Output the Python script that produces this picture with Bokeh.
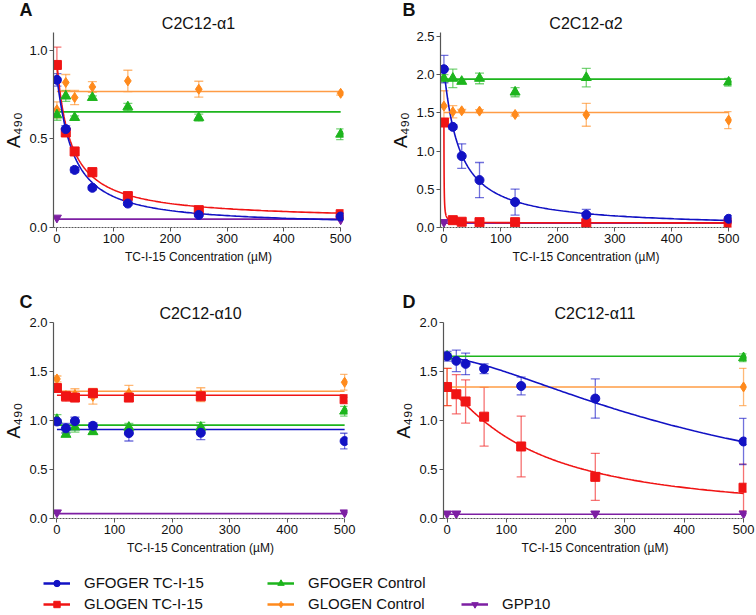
import numpy as np
from bokeh.plotting import figure
from bokeh.models import (Range1d, FixedTicker, PrintfTickFormatter, ColumnDataSource,
                          Whisker, TeeHead, Title, Legend, LegendItem)
from bokeh.layouts import column, row
from bokeh.embed import file_html
from bokeh.resources import INLINE

# ---------------- data ----------------
conc = [0, 15.625, 31.25, 62.5, 125, 250, 500]
conc_ends = [0, 500]
conc_d_gpp = [0, 15.625, 250, 500]
x_ticks = [0, 100, 200, 300, 400, 500]
x_title = "TC-I-15 Concentration (µM)"
y_title = "A₄₉₀"

# Panel A  C2C12-a1
A_gfoger_tc = [0.833, 0.555, 0.325, 0.224, 0.135, 0.071, 0.062]
A_gfoger_tc_sd = [0.035, 0.02, 0.015, 0.01, 0.01, 0.008, 0.008]
A_glogen_tc = [0.917, 0.536, 0.429, 0.312, 0.177, 0.098, 0.075]
A_glogen_tc_sd = [0.10, 0.02, 0.02, 0.025, 0.02, 0.01, 0.01]
A_gfoger_ctrl = [0.635, 0.741, 0.620, 0.733, 0.680, 0.620, 0.526]
A_gfoger_ctrl_sd = [0.03, 0.03, 0.01, 0.01, 0.02, 0.02, 0.03]
A_glogen_ctrl = [0.664, 0.818, 0.733, 0.793, 0.827, 0.780, 0.757]
A_glogen_ctrl_sd = [0.045, 0.045, 0.04, 0.03, 0.06, 0.045, 0.01]
A_gpp10 = [0.055, 0.045]
A_levels = {"gfoger_ctrl": 0.652, "glogen_ctrl": 0.767, "gpp10": 0.047}
A_fit_gfoger = (0.84, 0.01, 28.0, 1.1)   # top, bottom, IC50, Hill
A_fit_glogen = (0.93, 0.04, 24.0, 1.0)

# Panel B  C2C12-a2
B_gfoger_tc = [2.07, 1.316, 0.934, 0.62, 0.333, 0.167, 0.114]
B_gfoger_tc_sd = [0.18, 0.03, 0.16, 0.23, 0.17, 0.07, 0.02]
B_glogen_tc = [1.373, 0.096, 0.075, 0.070, 0.070, 0.057, 0.060]
B_glogen_tc_sd = [0.03, 0.01, 0.01, 0.01, 0.01, 0.01, 0.01]
B_gfoger_ctrl = [1.95, 1.95, 1.91, 1.95, 1.77, 1.96, 1.90]
B_gfoger_ctrl_sd = [0.05, 0.12, 0.02, 0.07, 0.06, 0.12, 0.05]
B_glogen_ctrl = [1.588, 1.513, 1.526, 1.522, 1.478, 1.474, 1.404]
B_glogen_ctrl_sd = [0.20, 0.08, 0.02, 0.02, 0.02, 0.15, 0.11]
B_gpp10 = [0.07, 0.06]
B_levels = {"gfoger_ctrl": 1.94, "glogen_ctrl": 1.504, "gpp10": 0.057}
B_fit_gfoger = (2.06, 0.0, 27.0, 1.05)
B_fit_glogen = (1.38, 0.06, 0.3, 1.0)

# Panel C  C2C12-a10
C_gfoger_tc = [0.99, 0.92, 0.993, 0.946, 0.871, 0.875, 0.79]
C_gfoger_tc_sd = [0.02, 0.05, 0.04, 0.03, 0.08, 0.07, 0.08]
C_glogen_tc = [1.332, 1.247, 1.234, 1.278, 1.234, 1.247, 1.217]
C_glogen_tc_sd = [0.03, 0.05, 0.03, 0.04, 0.03, 0.03, 0.02]
C_gfoger_ctrl = [1.01, 0.858, 0.932, 0.885, 0.93, 0.93, 1.095]
C_gfoger_ctrl_sd = [0.05, 0.02, 0.05, 0.02, 0.04, 0.05, 0.05]
C_glogen_ctrl = [1.424, 1.254, 1.264, 1.247, 1.278, 1.264, 1.39]
C_glogen_ctrl_sd = [0.03, 0.03, 0.06, 0.08, 0.08, 0.07, 0.08]
C_gpp10 = [0.061, 0.061]
C_levels = {"gfoger_tc": 0.908, "glogen_tc": 1.258, "gfoger_ctrl": 0.953,
            "glogen_ctrl": 1.298, "gpp10": 0.05}

# Panel D  C2C12-a11
D_gfoger_tc = [1.656, 1.609, 1.578, 1.528, 1.352, 1.224, 0.786]
D_gfoger_tc_sd = [0.05, 0.11, 0.11, 0.05, 0.09, 0.20, 0.235]
D_glogen_tc = [1.342, 1.268, 1.194, 1.039, 0.735, 0.425, 0.314]
D_glogen_tc_sd = [0.19, 0.20, 0.22, 0.30, 0.31, 0.24, 0.24]
D_gfoger_ctrl = [1.656, 1.64]
D_gfoger_ctrl_sd = [0.03, 0.04]
D_glogen_ctrl = [1.342, 1.342]
D_glogen_ctrl_sd = [0.19, 0.19]
D_gpp10 = [0.05, 0.05, 0.05, 0.05]
D_levels = {"gfoger_ctrl": 1.656, "glogen_ctrl": 1.342, "gpp10": 0.044}
D_fit_gfoger = (1.64, 0.0, 470.0, 1.5)
D_fit_glogen = (1.34, 0.0, 150.0, 1.2)

legend_labels = ["GFOGER TC-I-15", "GLOGEN TC-I-15", "GFOGER Control", "GLOGEN Control", "GPP10"]

# ---------------- style ----------------
FONT = "Liberation Sans"
BLUE = "#1212c4"
RED = "#f01414"
GREEN = "#1db51d"
ORANGE = "#ff8a1c"
ORANGE_L = "#ff9c45"
PURPLE = "#7d1fa3"
AXIS_C = "#555555"
X0 = -6

STY = {
    "gfoger_tc": dict(color=BLUE, marker="circle", size=9),
    "glogen_tc": dict(color=RED, marker="square", size=9),
    "gfoger_ctrl": dict(color=GREEN, marker="triangle", size=10),
    "glogen_ctrl": dict(color=ORANGE, marker="diamond", size=10),
    "gpp10": dict(color=PURPLE, marker="inverted_triangle", size=9),
}
LINE_C = {"gfoger_tc": BLUE, "glogen_tc": RED, "gfoger_ctrl": GREEN,
          "glogen_ctrl": ORANGE_L, "gpp10": PURPLE}

x_fine = np.concatenate([[0.0], np.geomspace(0.001, conc[-1], 800)])


def hill(params, xs):
    top, bottom, ic50, n = params
    return bottom + (top - bottom) / (1.0 + (xs / ic50) ** n)


def make_panel(letter, title, width, height, mb, ymax, yticks, series, levels, fits,
               letter_offset, title_standoff, letter_standoff):
    p = figure(width=width, height=height, x_range=Range1d(X0, 505), y_range=Range1d(0, ymax),
               output_backend="svg", toolbar_location=None,
               min_border_left=mb[0], min_border_right=mb[1], min_border_top=mb[2],
               min_border_bottom=mb[3])
    p.title.visible = False
    p.add_layout(Title(text=title, align="center", text_font=FONT, text_font_size="16px",
                       text_font_style="normal", text_color="#111111",
                       standoff=title_standoff), "above")
    p.add_layout(Title(text=letter, align="left", offset=letter_offset, text_font=FONT,
                       text_font_size="18px", text_font_style="bold", text_color="#111111",
                       standoff=letter_standoff), "above")
    p.xgrid.visible = False
    p.ygrid.visible = False
    p.outline_line_color = None
    p.background_fill_color = "white"

    p.xaxis.bounds = (X0, 500)
    p.yaxis.bounds = (0, ymax)
    p.xaxis.ticker = FixedTicker(ticks=x_ticks)
    p.yaxis.ticker = FixedTicker(ticks=yticks)
    p.yaxis.formatter = PrintfTickFormatter(format="%.1f")
    for ax in (p.xaxis, p.yaxis):
        ax.axis_line_color = AXIS_C
        ax.axis_line_width = 1.2
        ax.major_tick_line_color = AXIS_C
        ax.major_tick_in = 0
        ax.major_tick_out = 4
        ax.minor_tick_line_color = None
        ax.major_label_text_font = FONT
        ax.major_label_text_font_size = "13px"
        ax.major_label_text_color = "#111111"
        ax.major_label_standoff = 2
        ax.axis_label_text_font = FONT
        ax.axis_label_text_font_style = "normal"
        ax.axis_label_text_color = "#111111"
    p.xaxis.axis_line_dash = "2 1"
    p.xaxis.axis_label = x_title
    p.xaxis.axis_label_text_font_size = "12px"
    p.xaxis.axis_label_standoff = 4
    p.yaxis.axis_label = y_title
    p.yaxis.axis_label_text_font_size = "19px"
    p.yaxis.axis_label_standoff = 2

    # horizontal (constant) fits
    for key, lvl in levels.items():
        p.line(conc_ends, [lvl, lvl], line_color=LINE_C[key], line_width=1.6)
    # inhibition fits
    for key, prm in fits.items():
        p.line(x_fine, hill(prm, x_fine), line_color=LINE_C[key], line_width=1.6)

    # error bars
    for key, xs, ys, sd in series:
        if sd is None:
            continue
        c = STY[key]["color"]
        src = ColumnDataSource(dict(x=xs, lower=[y - s for y, s in zip(ys, sd)],
                                    upper=[y + s for y, s in zip(ys, sd)]))
        w = Whisker(source=src, base="x", lower="lower", upper="upper", dimension="height",
                    line_color=c, line_alpha=0.6, line_width=1.3,
                    upper_head=TeeHead(size=9, line_color=c, line_alpha=0.6, line_width=1.3),
                    lower_head=TeeHead(size=9, line_color=c, line_alpha=0.6, line_width=1.3))
        p.add_layout(w)
    # markers
    for key, xs, ys, sd in series:
        st = STY[key]
        p.scatter(xs, ys, marker=st["marker"], size=st["size"], fill_color=st["color"],
                  line_color=st["color"])
    return p


pA = make_panel("A", "C2C12-α1", 380, 266, (46, 37, 32, 39), 1.1, [0, 0.5, 1.0],
                [("glogen_ctrl", conc, A_glogen_ctrl, A_glogen_ctrl_sd),
                 ("gfoger_ctrl", conc, A_gfoger_ctrl, A_gfoger_ctrl_sd),
                 ("gpp10", conc_ends, A_gpp10, None),
                 ("glogen_tc", conc, A_glogen_tc, A_glogen_tc_sd),
                 ("gfoger_tc", conc, A_gfoger_tc, A_gfoger_tc_sd)],
                A_levels, {"glogen_tc": A_fit_glogen, "gfoger_tc": A_fit_gfoger},
                -34, 2, -16)

pB = make_panel("B", "C2C12-α2", 376, 266, (60, 25, 32, 39), 2.55, [0, 0.5, 1.0, 1.5, 2.0, 2.5],
                [("glogen_ctrl", conc, B_glogen_ctrl, B_glogen_ctrl_sd),
                 ("gfoger_ctrl", conc, B_gfoger_ctrl, B_gfoger_ctrl_sd),
                 ("gpp10", conc_ends, B_gpp10, None),
                 ("glogen_tc", conc, B_glogen_tc, B_glogen_tc_sd),
                 ("gfoger_tc", conc, B_gfoger_tc, B_gfoger_tc_sd)],
                B_levels, {"glogen_tc": B_fit_glogen, "gfoger_tc": B_fit_gfoger},
                -38, 2, -16)

pC = make_panel("C", "C2C12-α10", 380, 292, (46, 33, 56, 40), 2.0, [0, 0.5, 1.0, 1.5, 2.0],
                [("glogen_ctrl", conc, C_glogen_ctrl, C_glogen_ctrl_sd),
                 ("gfoger_ctrl", conc, C_gfoger_ctrl, C_gfoger_ctrl_sd),
                 ("gpp10", conc_ends, C_gpp10, None),
                 ("glogen_tc", conc, C_glogen_tc, C_glogen_tc_sd),
                 ("gfoger_tc", conc, C_gfoger_tc, C_gfoger_tc_sd)],
                C_levels, {}, -34, 1, -18)

pD = make_panel("D", "C2C12-α11", 376, 292, (63, 10, 56, 40), 2.0, [0, 0.5, 1.0, 1.5, 2.0],
                [("glogen_ctrl", conc_ends, D_glogen_ctrl, D_glogen_ctrl_sd),
                 ("gfoger_ctrl", conc_ends, D_gfoger_ctrl, D_gfoger_ctrl_sd),
                 ("gpp10", conc_d_gpp, D_gpp10, None),
                 ("glogen_tc", conc, D_glogen_tc, D_glogen_tc_sd),
                 ("gfoger_tc", conc, D_gfoger_tc, D_gfoger_tc_sd)],
                D_levels, {"glogen_tc": D_fit_glogen, "gfoger_tc": D_fit_gfoger},
                -41, 1, -18)

# ---------------- legend strip ----------------
pL = figure(width=756, height=57, x_range=Range1d(0, 1), y_range=Range1d(0, 1),
            output_backend="svg", toolbar_location=None, x_axis_type=None, y_axis_type=None,
            min_border_left=0, min_border_right=0, min_border_top=0, min_border_bottom=0)
pL.xgrid.visible = False
pL.ygrid.visible = False
pL.outline_line_color = None

keys = ["gfoger_tc", "glogen_tc", "gfoger_ctrl", "glogen_ctrl", "gpp10"]
items = []
for key, lab in zip(keys, legend_labels):
    st = STY[key]
    # one point outside the visible range so the legend has a glyph to draw
    lr = pL.line([-5, -4], [-5, -5], line_color=st["color"], line_width=2.5)
    sr = pL.scatter([-5], [-5], marker=st["marker"], size=st["size"], fill_color=st["color"],
                    line_color=st["color"])
    items.append(LegendItem(label=lab, renderers=[lr, sr]))


def legend_box(its, loc):
    lg = Legend(items=its, location=loc, orientation="vertical", padding=0, margin=0,
                spacing=4, glyph_width=27, glyph_height=16, label_height=16,
                label_standoff=14, label_text_font=FONT, label_text_font_size="15px",
                label_text_color="#111111", border_line_alpha=0, background_fill_alpha=0)
    pL.add_layout(lg)


legend_box(items[0:2], (43, 3))
legend_box(items[2:4], (267, 3))
legend_box(items[4:5], (461, 3))

layout = column(row(pA, pB), row(pC, pD), pL)
open("out.html", "w").write(file_html(layout, INLINE))
